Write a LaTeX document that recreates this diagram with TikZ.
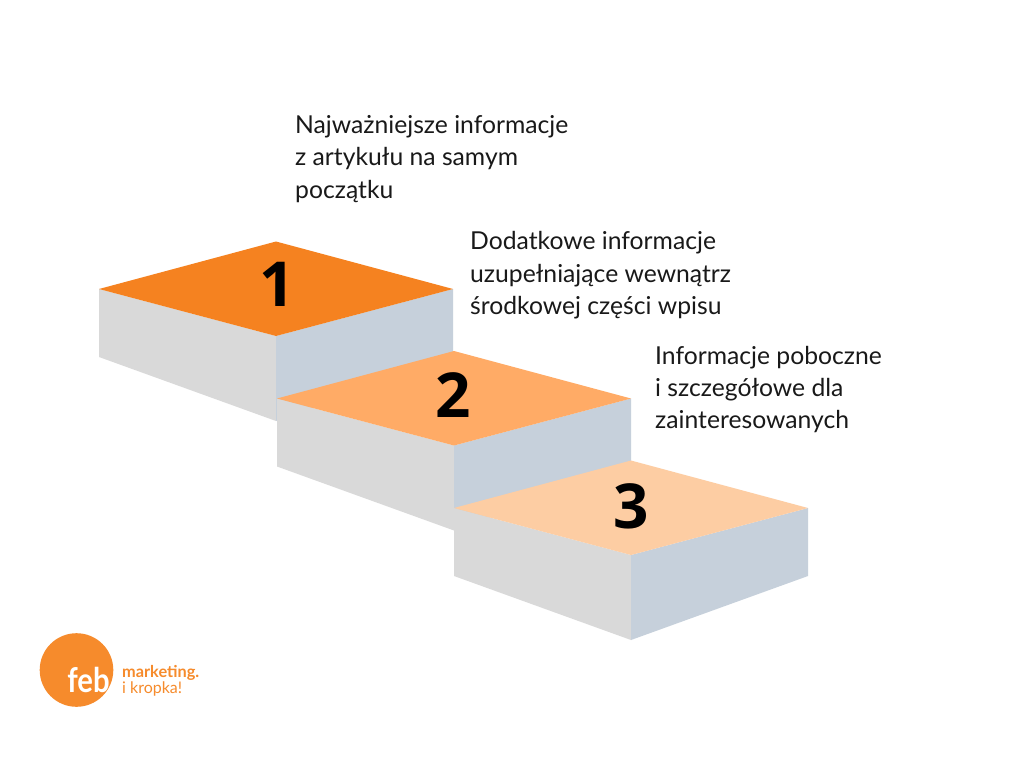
\documentclass[tikz,border=0pt]{standalone}
\usepackage{fontspec}
\setmainfont{Lato}
\newfontfamily\numfont{Open Sans}
\definecolor{topA}{HTML}{F58220}
\definecolor{topB}{HTML}{FFAB66}
\definecolor{topC}{HTML}{FDCDA3}
\definecolor{sideL}{HTML}{D9D9D9}
\definecolor{sideR}{HTML}{C6D0DB}
\definecolor{logoC}{HTML}{F68B2C}
\tikzset{
  caption/.style={anchor=base west,inner sep=0pt,font=\fontsize{24.7}{24.7}\selectfont,text=black!90},
  stepnum/.style={inner sep=0pt,font=\numfont\bfseries\fontsize{62}{62}\selectfont,text=black},
}
\newcommand{\stepblock}[3]{%
  \begin{scope}[shift={(#1,#2)}]
    \fill[sideL] (0,0) -- (177,47) -- (177,132) -- (0,68) -- cycle;
    \fill[sideR] (177,47) -- (354,0) -- (354,68) -- (177,132) -- cycle;
    \fill[#3] (0,0) -- (177,-47.5) -- (354,0) -- (177,47) -- cycle;
  \end{scope}}
\begin{document}
\begin{tikzpicture}[x=1pt,y=-1pt]
\useasboundingbox (0,0) rectangle (1024,768);
\fill[white] (0,0) rectangle (1024,768);
\stepblock{99}{289}{topA}
\stepblock{277}{398.5}{topB}
\stepblock{454}{508}{topC}
\node[stepnum] (n1) at (277,284) {1};
\node[stepnum] (n2) at (453,395) {2};
\node[stepnum] (n3) at (631,506) {3};
\node[caption] (a1) at (295,133) {Najważniejsze informacje};
\node[caption] (a2) at (295,165) {z artykułu na samym};
\node[caption] (a3) at (295,198) {początku};
\node[caption] (b1) at (470,249) {Dodatkowe informacje};
\node[caption] (b2) at (470,282) {uzupełniające wewnątrz};
\node[caption] (b3) at (470,314) {środkowej części wpisu};
\node[caption] (c1) at (655,364) {Informacje poboczne};
\node[caption] (c2) at (655,396) {i szczegółowe dla};
\node[caption] (c3) at (655,428) {zainteresowanych};
\fill[logoC] (76.5,670) circle (36.8);
\node[anchor=base,inner sep=0pt,text=white,font=\bfseries\fontsize{34}{34}\selectfont,xscale=.86] (feb) at (88.5,692) {feb};
\node[anchor=base west,inner sep=0pt,text=logoC,font=\bfseries\fontsize{16.3}{16.3}\selectfont] (m) at (122,677) {marketing.};
\node[anchor=base west,inner sep=0pt,text=logoC,font=\fontsize{16}{16}\selectfont] (k) at (122,693) {i kropka!};
\end{tikzpicture}
\end{document}
